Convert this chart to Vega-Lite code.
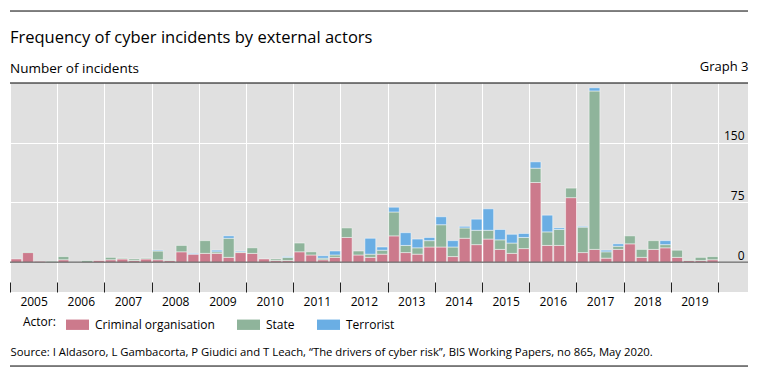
{
  "$schema": "https://vega.github.io/schema/vega-lite/v6.json",
  "width": 738,
  "height": 209,
  "autosize": {"type": "none"},
  "padding": {"left": 10, "top": 83, "right": 12, "bottom": 87},
  "background": "white",
  "title": {
    "text": "Frequency of cyber incidents by external actors",
    "subtitle": "Number of incidents",
    "anchor": "start",
    "frame": "group",
    "offset": -65,
    "font": "Open Sans",
    "fontSize": 16.5,
    "fontWeight": "normal",
    "color": "black",
    "subtitleFont": "Open Sans",
    "subtitleFontSize": 13.5,
    "subtitleColor": "black",
    "subtitlePadding": 16
  },
  "config": {
    "font": "Open Sans",
    "view": {"fill": "#e0e0e0", "stroke": null}
  },
  "data": {
    "values": [
      {"date": "2005-01-01", "actor": "Criminal organisation", "count": 4},
      {"date": "2005-04-01", "actor": "Criminal organisation", "count": 12},
      {"date": "2005-04-01", "actor": "State", "count": 1},
      {"date": "2005-07-01", "actor": "Criminal organisation", "count": 1},
      {"date": "2005-10-01", "actor": "State", "count": 1},
      {"date": "2006-01-01", "actor": "Criminal organisation", "count": 3},
      {"date": "2006-01-01", "actor": "State", "count": 4},
      {"date": "2006-07-01", "actor": "State", "count": 2},
      {"date": "2006-10-01", "actor": "Criminal organisation", "count": 2},
      {"date": "2007-01-01", "actor": "Criminal organisation", "count": 3},
      {"date": "2007-01-01", "actor": "State", "count": 3},
      {"date": "2007-04-01", "actor": "Criminal organisation", "count": 4},
      {"date": "2007-04-01", "actor": "State", "count": 1},
      {"date": "2007-07-01", "actor": "Criminal organisation", "count": 2},
      {"date": "2007-07-01", "actor": "State", "count": 2},
      {"date": "2007-10-01", "actor": "Criminal organisation", "count": 4},
      {"date": "2007-10-01", "actor": "State", "count": 1},
      {"date": "2008-01-01", "actor": "Criminal organisation", "count": 3},
      {"date": "2008-01-01", "actor": "State", "count": 11},
      {"date": "2008-01-01", "actor": "Terrorist", "count": 1},
      {"date": "2008-04-01", "actor": "Criminal organisation", "count": 2},
      {"date": "2008-04-01", "actor": "State", "count": 1},
      {"date": "2008-07-01", "actor": "Criminal organisation", "count": 13},
      {"date": "2008-07-01", "actor": "State", "count": 8},
      {"date": "2008-10-01", "actor": "Criminal organisation", "count": 10},
      {"date": "2008-10-01", "actor": "Terrorist", "count": 1},
      {"date": "2009-01-01", "actor": "Criminal organisation", "count": 11},
      {"date": "2009-01-01", "actor": "State", "count": 16},
      {"date": "2009-04-01", "actor": "Criminal organisation", "count": 11},
      {"date": "2009-04-01", "actor": "State", "count": 2},
      {"date": "2009-04-01", "actor": "Terrorist", "count": 2},
      {"date": "2009-07-01", "actor": "Criminal organisation", "count": 6},
      {"date": "2009-07-01", "actor": "State", "count": 24},
      {"date": "2009-07-01", "actor": "Terrorist", "count": 3},
      {"date": "2009-10-01", "actor": "Criminal organisation", "count": 12},
      {"date": "2009-10-01", "actor": "State", "count": 1},
      {"date": "2009-10-01", "actor": "Terrorist", "count": 1},
      {"date": "2010-01-01", "actor": "Criminal organisation", "count": 11},
      {"date": "2010-01-01", "actor": "State", "count": 7},
      {"date": "2010-04-01", "actor": "Criminal organisation", "count": 4},
      {"date": "2010-07-01", "actor": "Criminal organisation", "count": 2},
      {"date": "2010-07-01", "actor": "State", "count": 2},
      {"date": "2010-10-01", "actor": "Criminal organisation", "count": 2},
      {"date": "2010-10-01", "actor": "State", "count": 4},
      {"date": "2010-10-01", "actor": "Terrorist", "count": 1},
      {"date": "2011-01-01", "actor": "Criminal organisation", "count": 13},
      {"date": "2011-01-01", "actor": "State", "count": 11},
      {"date": "2011-04-01", "actor": "Criminal organisation", "count": 9},
      {"date": "2011-04-01", "actor": "State", "count": 4},
      {"date": "2011-07-01", "actor": "Criminal organisation", "count": 3},
      {"date": "2011-07-01", "actor": "State", "count": 2},
      {"date": "2011-07-01", "actor": "Terrorist", "count": 3},
      {"date": "2011-10-01", "actor": "Criminal organisation", "count": 6},
      {"date": "2011-10-01", "actor": "State", "count": 3},
      {"date": "2011-10-01", "actor": "Terrorist", "count": 5},
      {"date": "2012-01-01", "actor": "Criminal organisation", "count": 31},
      {"date": "2012-01-01", "actor": "State", "count": 12},
      {"date": "2012-04-01", "actor": "Criminal organisation", "count": 9},
      {"date": "2012-04-01", "actor": "State", "count": 5},
      {"date": "2012-07-01", "actor": "Criminal organisation", "count": 6},
      {"date": "2012-07-01", "actor": "State", "count": 4},
      {"date": "2012-07-01", "actor": "Terrorist", "count": 20},
      {"date": "2012-10-01", "actor": "Criminal organisation", "count": 10},
      {"date": "2012-10-01", "actor": "State", "count": 5},
      {"date": "2012-10-01", "actor": "Terrorist", "count": 4},
      {"date": "2013-01-01", "actor": "Criminal organisation", "count": 33},
      {"date": "2013-01-01", "actor": "State", "count": 30},
      {"date": "2013-01-01", "actor": "Terrorist", "count": 6},
      {"date": "2013-04-01", "actor": "Criminal organisation", "count": 12},
      {"date": "2013-04-01", "actor": "State", "count": 9},
      {"date": "2013-04-01", "actor": "Terrorist", "count": 16},
      {"date": "2013-07-01", "actor": "Criminal organisation", "count": 10},
      {"date": "2013-07-01", "actor": "State", "count": 8},
      {"date": "2013-07-01", "actor": "Terrorist", "count": 11},
      {"date": "2013-10-01", "actor": "Criminal organisation", "count": 19},
      {"date": "2013-10-01", "actor": "State", "count": 8},
      {"date": "2013-10-01", "actor": "Terrorist", "count": 4},
      {"date": "2014-01-01", "actor": "Criminal organisation", "count": 19},
      {"date": "2014-01-01", "actor": "State", "count": 28},
      {"date": "2014-01-01", "actor": "Terrorist", "count": 10},
      {"date": "2014-04-01", "actor": "Criminal organisation", "count": 7},
      {"date": "2014-04-01", "actor": "State", "count": 12},
      {"date": "2014-04-01", "actor": "Terrorist", "count": 8},
      {"date": "2014-07-01", "actor": "Criminal organisation", "count": 30},
      {"date": "2014-07-01", "actor": "State", "count": 13},
      {"date": "2014-07-01", "actor": "Terrorist", "count": 2},
      {"date": "2014-10-01", "actor": "Criminal organisation", "count": 22},
      {"date": "2014-10-01", "actor": "State", "count": 18},
      {"date": "2014-10-01", "actor": "Terrorist", "count": 14},
      {"date": "2015-01-01", "actor": "Criminal organisation", "count": 29},
      {"date": "2015-01-01", "actor": "State", "count": 11},
      {"date": "2015-01-01", "actor": "Terrorist", "count": 27},
      {"date": "2015-04-01", "actor": "Criminal organisation", "count": 16},
      {"date": "2015-04-01", "actor": "State", "count": 12},
      {"date": "2015-04-01", "actor": "Terrorist", "count": 13},
      {"date": "2015-07-01", "actor": "Criminal organisation", "count": 11},
      {"date": "2015-07-01", "actor": "State", "count": 13},
      {"date": "2015-07-01", "actor": "Terrorist", "count": 11},
      {"date": "2015-10-01", "actor": "Criminal organisation", "count": 17},
      {"date": "2015-10-01", "actor": "State", "count": 14},
      {"date": "2015-10-01", "actor": "Terrorist", "count": 5},
      {"date": "2016-01-01", "actor": "Criminal organisation", "count": 100},
      {"date": "2016-01-01", "actor": "State", "count": 18},
      {"date": "2016-01-01", "actor": "Terrorist", "count": 8},
      {"date": "2016-04-01", "actor": "Criminal organisation", "count": 21},
      {"date": "2016-04-01", "actor": "State", "count": 17},
      {"date": "2016-04-01", "actor": "Terrorist", "count": 21},
      {"date": "2016-07-01", "actor": "Criminal organisation", "count": 21},
      {"date": "2016-07-01", "actor": "State", "count": 20},
      {"date": "2016-07-01", "actor": "Terrorist", "count": 2},
      {"date": "2016-10-01", "actor": "Criminal organisation", "count": 81},
      {"date": "2016-10-01", "actor": "State", "count": 12},
      {"date": "2017-01-01", "actor": "Criminal organisation", "count": 12},
      {"date": "2017-01-01", "actor": "State", "count": 32},
      {"date": "2017-01-01", "actor": "Terrorist", "count": 1},
      {"date": "2017-04-01", "actor": "Criminal organisation", "count": 16},
      {"date": "2017-04-01", "actor": "State", "count": 199},
      {"date": "2017-04-01", "actor": "Terrorist", "count": 4},
      {"date": "2017-07-01", "actor": "Criminal organisation", "count": 5},
      {"date": "2017-07-01", "actor": "State", "count": 8},
      {"date": "2017-07-01", "actor": "Terrorist", "count": 2},
      {"date": "2017-10-01", "actor": "Criminal organisation", "count": 16},
      {"date": "2017-10-01", "actor": "State", "count": 4},
      {"date": "2017-10-01", "actor": "Terrorist", "count": 3},
      {"date": "2018-01-01", "actor": "Criminal organisation", "count": 23},
      {"date": "2018-01-01", "actor": "State", "count": 10},
      {"date": "2018-04-01", "actor": "Criminal organisation", "count": 6},
      {"date": "2018-04-01", "actor": "State", "count": 10},
      {"date": "2018-07-01", "actor": "Criminal organisation", "count": 16},
      {"date": "2018-07-01", "actor": "State", "count": 11},
      {"date": "2018-10-01", "actor": "Criminal organisation", "count": 18},
      {"date": "2018-10-01", "actor": "State", "count": 4},
      {"date": "2018-10-01", "actor": "Terrorist", "count": 5},
      {"date": "2019-01-01", "actor": "Criminal organisation", "count": 6},
      {"date": "2019-01-01", "actor": "State", "count": 9},
      {"date": "2019-04-01", "actor": "Criminal organisation", "count": 2},
      {"date": "2019-04-01", "actor": "State", "count": 1},
      {"date": "2019-07-01", "actor": "Criminal organisation", "count": 2},
      {"date": "2019-07-01", "actor": "State", "count": 4},
      {"date": "2019-10-01", "actor": "Criminal organisation", "count": 3},
      {"date": "2019-10-01", "actor": "State", "count": 4}
    ]
  },
  "layer": [
    {
      "mark": {"type": "bar", "timeUnitBandSize": 0.86, "stroke": "white", "strokeOpacity": 0.6, "strokeWidth": 0.8},
      "encoding": {
        "x": {
          "field": "date",
          "type": "temporal",
          "timeUnit": "utcyearquarter",
          "scale": {"type": "utc", "domain": [{"year": 2005, "month": 1, "date": 1, "utc": true}, {"year": 2020, "month": 8, "date": 20, "utc": true}]},
          "axis": {
            "orient": "bottom",
            "tickCount": {"interval": "year", "step": 1},
            "format": "%Y",
            "labelExpr": "datum.label == '2020' ? '' : datum.label",
            "labelOffset": 23.6,
            "labelAlign": "center",
            "labelFlush": false,
            "labelOverlap": false,
            "labelBound": false,
            "labelFontSize": 12,
            "labelColor": "black",
            "labelPadding": 14,
            "grid": true,
            "gridColor": "white",
            "gridWidth": 1,
            "domain": false,
            "ticks": true,
            "tickSize": -10,
            "tickColor": "#222222",
            "tickWidth": 1,
            "title": "Source: I Aldasoro, L Gambacorta, P Giudici and T Leach, “The drivers of cyber risk”, BIS Working Papers, no 865, May 2020.",
            "titleAnchor": "start",
            "titleAlign": "left",
            "titleBaseline": "alphabetic",
            "titleX": 0,
            "titleY": 63,
            "titleFontSize": 11.3,
            "titleFontWeight": "normal",
            "titleColor": "black"
          }
        },
        "y": {
          "field": "count",
          "type": "quantitative",
          "stack": "zero",
          "scale": {"domain": [-37.5, 225], "nice": false, "zero": false},
          "axis": {
            "orient": "right",
            "values": [0, 75, 150],
            "grid": true,
            "gridColor": "white",
            "gridWidth": 1,
            "ticks": false,
            "domain": false,
            "labelAlign": "right",
            "labelPadding": -4,
            "labelBaseline": "alphabetic",
            "labelOffset": -3,
            "labelFontSize": 12,
            "labelColor": "black",
            "title": "Graph 3",
            "titleAngle": 0,
            "titleAlign": "right",
            "titleBaseline": "alphabetic",
            "titleX": 0,
            "titleY": -13,
            "titleFontSize": 13,
            "titleFontWeight": "normal",
            "titleColor": "black"
          }
        },
        "color": {
          "field": "actor",
          "type": "nominal",
          "scale": {"domain": ["Criminal organisation", "State", "Terrorist"], "range": ["#cc7a8c", "#8fb49b", "#6aaee4"]},
          "legend": {
            "orient": "none",
            "legendX": 13,
            "legendY": 230,
            "direction": "horizontal",
            "title": "Actor:",
            "titleOrient": "left",
            "titleFontSize": 12,
            "titleFontWeight": "normal",
            "titleColor": "black",
            "titlePadding": 10,
            "labelFontSize": 12,
            "labelColor": "black",
            "labelOffset": 6,
            "symbolType": "M-1,-0.45H1V0.45H-1Z",
            "symbolSize": 529,
            "symbolStrokeWidth": 0,
            "symbolOpacity": 1,
            "columnPadding": 22
          }
        },
        "order": {"field": "actor", "sort": "ascending"}
      }
    },
    {
      "data": {"values": [{}]},
      "mark": {"type": "rule", "color": "#444444", "strokeWidth": 1},
      "encoding": {"y": {"datum": 0, "type": "quantitative"}}
    },
    {
      "data": {"values": [{}]},
      "mark": {"type": "rule", "color": "black", "strokeWidth": 1},
      "encoding": {"y": {"datum": 225, "type": "quantitative"}}
    },
    {
      "data": {"values": [{}]},
      "mark": {"type": "rule", "color": "black", "strokeWidth": 1},
      "encoding": {"y": {"datum": 315.4, "type": "quantitative"}}
    },
    {
      "data": {"values": [{}]},
      "mark": {"type": "rule", "color": "black", "strokeWidth": 1},
      "encoding": {"y": {"datum": -130.5, "type": "quantitative"}}
    }
  ]
}
